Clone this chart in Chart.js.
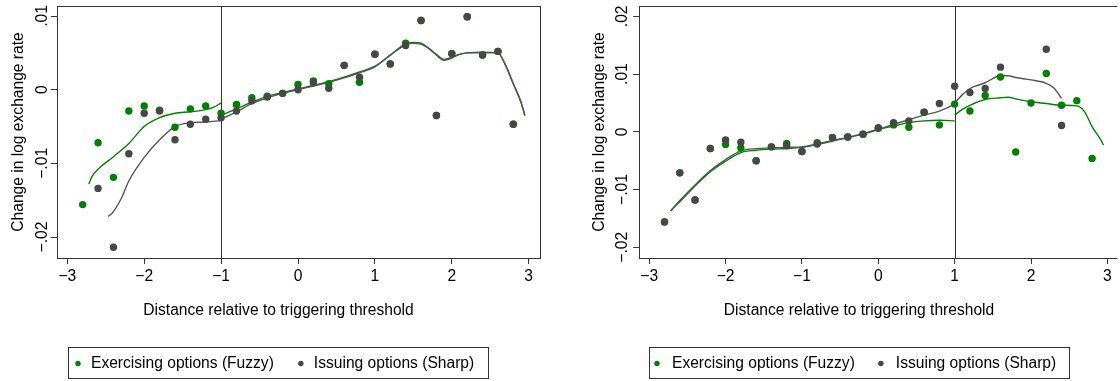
<!DOCTYPE html>
<html>
<head>
<meta charset="utf-8">
<script src="https://cdn.jsdelivr.net/npm/chart.js@4"></script>
<style>
  body { margin: 0; background: #fff; }
  .row { display: flex; width: 1120px; height: 381px; }
  .panel { width: 560px; height: 381px; }
</style>
</head>
<body>
<div class="row">
  <div class="panel"><canvas id="leftChart" width="560" height="381"></canvas></div>
  <div class="panel"><canvas id="rightChart" width="560" height="381"></canvas></div>
</div>
<script>
// bins on the running variable
const xBins = [-2.8, -2.6, -2.4, -2.2, -2.0, -1.8, -1.6, -1.4, -1.2, -1.0, -0.8, -0.6, -0.4, -0.2,
  0.0, 0.2, 0.4, 0.6, 0.8, 1.0, 1.2, 1.4, 1.6, 1.8, 2.0, 2.2, 2.4, 2.6, 2.8];

// left panel: bin means
const fuzzyLeft = [-0.0156, -0.0072, -0.0119, -0.0029, -0.0022, -0.0028, -0.0051, -0.0026, -0.0022, -0.0032,
  -0.0020, -0.0011, -0.0009, -0.0005, 0.0007, 0.0012, 0.0008, 0.0033, 0.0010, 0.0048, 0.0035, 0.0063,
  0.0094, -0.0035, 0.0049, 0.0099, 0.0047, 0.0052, -0.0047];
const sharpLeft = [null, -0.0134, -0.0214, -0.0087, -0.0032, -0.0029, -0.0068, -0.0047, -0.0040, -0.0038,
  -0.0029, -0.0015, -0.0010, -0.0005, 0.0000, 0.00095, 0.0002, 0.0033, 0.0017, 0.0048, 0.0035, 0.0060,
  0.0094, -0.0035, 0.0049, 0.0099, 0.0047, 0.0052, -0.0047];

// left panel: smoothed fits
const fuzzyFitLeftBelowX = [-2.72, -2.68, -2.6, -2.4, -2.2, -2.0, -1.8, -1.6, -1.4, -1.2, -1.1, -1.0];
const fuzzyFitLeftBelowY = [-0.0128, -0.0118, -0.0108, -0.0091, -0.0073, -0.0050, -0.0038, -0.0032, -0.0030,
  -0.0027, -0.0024, -0.0018];
const sharpFitLeftBelowX = [-2.47, -2.42, -2.3, -2.2, -2.0, -1.8, -1.6, -1.4, -1.2, -1.0];
const sharpFitLeftBelowY = [-0.0172, -0.0168, -0.0148, -0.0124, -0.0092, -0.0068, -0.0050, -0.0045, -0.0044, -0.0042];
const fitLeftAboveX = [-1.0, -0.8, -0.6, -0.4, -0.2, 0, 0.2, 0.4, 0.6, 0.8, 1.0, 1.2, 1.4, 1.5, 1.6, 1.7, 1.8,
  1.9, 2.0, 2.1, 2.2, 2.4, 2.6, 2.7, 2.8, 2.9, 2.95];
const sharpFitLeftAboveY = [-0.0040, -0.0030, -0.0019, -0.0011, -0.0005, 0.0000, 0.0005, 0.0010, 0.0016, 0.0023,
  0.0031, 0.0047, 0.0061, 0.0063, 0.0062, 0.0056, 0.0048, 0.0041, 0.0044, 0.0048, 0.0050, 0.0050, 0.0050,
  0.0033, 0.0008, -0.0017, -0.0035];
const fuzzyFitLeftAboveY = [-0.0035, -0.0026, -0.0017, -0.0009, -0.0004, 0.0001, 0.0006, 0.0011, 0.0017, 0.0024,
  0.0032, 0.0047, 0.0062, 0.0064, 0.0063, 0.0056, 0.0047, 0.0040, 0.0043, 0.0048, 0.0050, 0.0051, 0.0050,
  0.0033, 0.0008, -0.0017, -0.0035];

// right panel: bin means
const fuzzyRight = [-0.0156, -0.0071, -0.0118, -0.0029, -0.0022, -0.0028, -0.0050, -0.0026, -0.0020, -0.0034,
  -0.0019, -0.0010, -0.0009, -0.0004, 0.0007, 0.0012, 0.0008, 0.0034, 0.0012, 0.0048, 0.0036, 0.0063,
  0.0095, -0.0035, 0.0050, 0.0101, 0.0046, 0.0054, -0.0046];
const sharpRight = [-0.0156, -0.0071, -0.0118, -0.0029, -0.0014, -0.0018, -0.0050, -0.0026, -0.0024, -0.0034,
  -0.0021, -0.0010, -0.0009, -0.0004, 0.0006, 0.0016, 0.0019, 0.0034, 0.0049, 0.0079, 0.0068, 0.0075,
  0.0112, null, null, 0.0143, 0.0011, null, null];

// right panel: smoothed fits
const fitRightBelowX = [-2.72, -2.6, -2.4, -2.2, -2.0, -1.8, -1.6, -1.4, -1.2, -1.0, -0.8, -0.6, -0.4, -0.2,
  0, 0.2, 0.4, 0.6, 0.8, 1.0];
const fuzzyFitRightBelowY = [-0.0137, -0.0121, -0.0094, -0.0069, -0.0051, -0.0036, -0.0032, -0.0030, -0.0029,
  -0.0027, -0.0022, -0.0016, -0.0010, -0.0003, 0.0004, 0.0010, 0.0016, 0.0019, 0.0020, 0.0019];
const sharpFitRightBelowY = [-0.0137, -0.0119, -0.0092, -0.0067, -0.0048, -0.0033, -0.0029, -0.0028, -0.0027,
  -0.0026, -0.0021, -0.0015, -0.0010, -0.0004, 0.0004, 0.0013, 0.0021, 0.0029, 0.0036, 0.0048];
const sharpFitRightAboveX = [1.0, 1.1, 1.2, 1.4, 1.6, 1.7, 1.8, 2.0, 2.2, 2.3, 2.4];
const sharpFitRightAboveY = [0.0050, 0.0064, 0.0075, 0.0085, 0.0097, 0.0097, 0.0094, 0.0090, 0.0084, 0.0076, 0.0058];
const fuzzyFitRightAboveX = [1.0, 1.1, 1.2, 1.4, 1.6, 1.7, 1.8, 2.0, 2.2, 2.4, 2.6, 2.7, 2.8, 2.9, 2.95];
const fuzzyFitRightAboveY = [0.0029, 0.0039, 0.0046, 0.0056, 0.0059, 0.0060, 0.0057, 0.0052, 0.0049, 0.0046,
  0.0045, 0.0035, 0.0009, -0.0011, -0.0023];

// axes
const xTicks = [-3, -2, -1, 0, 1, 2, 3];
const xTickLabels = ['\u22123', '\u22122', '\u22121', '0', '1', '2', '3'];
const yTicksLeft = [-0.02, -0.01, 0, 0.01];
const yTickLabelsLeft = ['\u2212.02', '\u2212.01', '0', '.01'];
const yTicksRight = [-0.02, -0.01, 0, 0.01, 0.02];
const yTickLabelsRight = ['\u2212.02', '\u2212.01', '0', '.01', '.02'];
const xTitle = 'Distance relative to triggering threshold';

const GREEN = '#008000';
const GREY_DOT = '#474747';
const GREY_LINE = '#555555';
const AXIS = '#333333';
const FONT = '"Liberation Sans", Arial, Helvetica, sans-serif';
const FS = 15.6;

const pts = (xs, ys) => xs.map((x, i) => ({x: x, y: ys[i]})).filter(p => p.y !== null);

// full frame + threshold line
const frameBox = {
    id: 'frameBox',
    beforeDatasetsDraw(chart, args, opts) {
        const {ctx, chartArea: a, scales: {x}} = chart;
        const px = Math.round(x.getPixelForValue(opts.cutoff)) + 0.5;
        ctx.save();
        ctx.strokeStyle = AXIS;
        ctx.lineWidth = 1;
        ctx.beginPath();
        ctx.moveTo(px, a.top);
        ctx.lineTo(px, a.bottom);
        ctx.stroke();
        ctx.restore();
    },
    afterDraw(chart, args, opts) {
        const {ctx, chartArea: a} = chart;
        ctx.save();
        ctx.strokeStyle = AXIS;
        ctx.lineWidth = 1;
        ctx.beginPath();
        ctx.moveTo(a.left, Math.round(a.top) + 0.5);
        ctx.lineTo(a.right + 1, Math.round(a.top) + 0.5);
        if (opts.rightEdge) {
            ctx.moveTo(Math.round(a.right) + 0.5, a.top);
            ctx.lineTo(Math.round(a.right) + 0.5, a.bottom);
        }
        ctx.stroke();
        ctx.restore();
    }
};

// x title and boxed legend under the plot
const boxLegend = {
    id: 'boxLegend',
    afterDraw(chart, args, opts) {
        const {ctx} = chart;
        ctx.save();
        ctx.font = FS + 'px ' + FONT;
        ctx.textBaseline = 'middle';
        ctx.textAlign = 'center';
        ctx.fillStyle = '#000';
        ctx.fillText(xTitle, opts.titleX, opts.titleY);

        ctx.textAlign = 'left';
        ctx.strokeStyle = AXIS;
        ctx.lineWidth = 1;
        ctx.strokeRect(opts.left + 0.5, opts.top + 0.5, opts.width, opts.height);
        const y = opts.top + opts.height / 2 + 1;
        let x = opts.left + opts.dotInset;
        opts.items.forEach(i => {
            const ds = chart.data.datasets[i];
            ctx.fillStyle = ds.backgroundColor;
            ctx.beginPath();
            ctx.arc(x, y, 2.7, 0, Math.PI * 2);
            ctx.fill();
            ctx.fillStyle = '#000';
            ctx.fillText(ds.label, x + opts.textGap, y);
            x += opts.textGap + ctx.measureText(ds.label).width + opts.itemGap;
        });
        ctx.restore();
    }
};

function dotSet(label, xs, ys, color) {
    return {
        label: label,
        data: pts(xs, ys),
        backgroundColor: color,
        borderWidth: 0,
        pointRadius: 3.7,
        showLine: false
    };
}

function fitSet(xs, ys, color) {
    return {
        label: '',
        data: pts(xs, ys),
        borderColor: color,
        backgroundColor: color,
        borderWidth: 1.4,
        pointRadius: 0,
        showLine: true,
        cubicInterpolationMode: 'monotone'
    };
}

function makeChart(id, cfg) {
    const ctx = document.getElementById(id).getContext('2d');
    return new Chart(ctx, {
        type: 'scatter',
        data: {datasets: cfg.datasets},
        options: {
            responsive: false,
            animation: false,
            devicePixelRatio: 1,
            layout: {padding: cfg.padding},
            plugins: {
                legend: {display: false},
                tooltip: {enabled: false},
                frameBox: {cutoff: cfg.cutoff, rightEdge: cfg.rightEdge},
                boxLegend: cfg.legend
            },
            scales: {
                x: {
                    type: 'linear',
                    min: cfg.xMin,
                    max: cfg.xMax,
                    afterBuildTicks: s => { s.ticks = xTicks.map(v => ({value: v})); },
                    afterFit: s => { s.height = 73; s.paddingLeft = 0; s.paddingRight = 0; },
                    grid: {drawOnChartArea: false, drawTicks: true, tickLength: 6, color: AXIS},
                    border: {display: true, color: AXIS},
                    ticks: {
                        autoSkip: false, maxRotation: 0, padding: 3.5, color: '#000',
                        font: {family: FONT, size: FS},
                        callback: (v, i) => xTickLabels[i]
                    }
                },
                y: {
                    type: 'linear',
                    min: cfg.yMin,
                    max: cfg.yMax,
                    afterBuildTicks: s => { s.ticks = cfg.yTicks.map(v => ({value: v})); },
                    afterFit: s => { s.width = cfg.yWidth; s.paddingTop = 0; s.paddingBottom = 0; },
                    grid: {drawOnChartArea: false, drawTicks: true, tickLength: 6, color: AXIS},
                    border: {display: true, color: AXIS},
                    ticks: {
                        autoSkip: false, minRotation: 90, maxRotation: 90, crossAlign: 'center',
                        padding: cfg.yTickPad, color: '#000',
                        font: {family: FONT, size: FS},
                        callback: (v, i) => cfg.yTickLabels[i]
                    },
                    title: {
                        display: true, text: 'Change in log exchange rate', color: '#000',
                        font: {family: FONT, size: FS}, padding: {top: cfg.yTitlePad, bottom: 0}
                    }
                }
            }
        },
        plugins: [frameBox, boxLegend]
    });
}

document.addEventListener('DOMContentLoaded', () => {
    makeChart('leftChart', {
        datasets: [
            dotSet('Issuing options (Sharp)', xBins, sharpLeft, GREY_DOT),
            dotSet('Exercising options (Fuzzy)', xBins, fuzzyLeft, GREEN),
            fitSet(sharpFitLeftBelowX, sharpFitLeftBelowY, GREY_LINE),
            fitSet(fitLeftAboveX, sharpFitLeftAboveY, GREY_LINE),
            fitSet(fuzzyFitLeftBelowX, fuzzyFitLeftBelowY, GREEN),
            fitSet(fitLeftAboveX, fuzzyFitLeftAboveY, GREEN)
        ],
        padding: {left: 0, top: 6, right: 20, bottom: 50},
        cutoff: -1,
        rightEdge: true,
        xMin: -3.134, xMax: 3.147,
        yMin: -0.02285, yMax: 0.01136,
        yTicks: yTicksLeft, yTickLabels: yTickLabelsLeft,
        yWidth: 57, yTickPad: -7, yTitlePad: 9,
        legend: {titleX: 278.5, titleY: 311, left: 68, top: 347, width: 420, height: 31,
            dotInset: 10, textGap: 13, itemGap: 27, items: [1, 0]}
    });

    makeChart('rightChart', {
        datasets: [
            dotSet('Issuing options (Sharp)', xBins, sharpRight, GREY_DOT),
            dotSet('Exercising options (Fuzzy)', xBins, fuzzyRight, GREEN),
            fitSet(fitRightBelowX, sharpFitRightBelowY, GREY_LINE),
            fitSet(sharpFitRightAboveX, sharpFitRightAboveY, GREY_LINE),
            fitSet(fitRightBelowX, fuzzyFitRightBelowY, GREEN),
            fitSet(fuzzyFitRightAboveX, fuzzyFitRightAboveY, GREEN)
        ],
        padding: {left: 20, top: 6, right: 0, bottom: 50},
        cutoff: 1,
        rightEdge: false,
        xMin: -3.13, xMax: 3.113,
        yMin: -0.02185, yMax: 0.02179,
        yTicks: yTicksRight, yTickLabels: yTickLabelsRight,
        yWidth: 59.3, yTickPad: -4.4, yTitlePad: 10,
        legend: {titleX: 299, titleY: 311, left: 89, top: 347, width: 420, height: 31,
            dotInset: 8, textGap: 15, itemGap: 26, items: [1, 0]}
    });
});
</script>
</body>
</html>
